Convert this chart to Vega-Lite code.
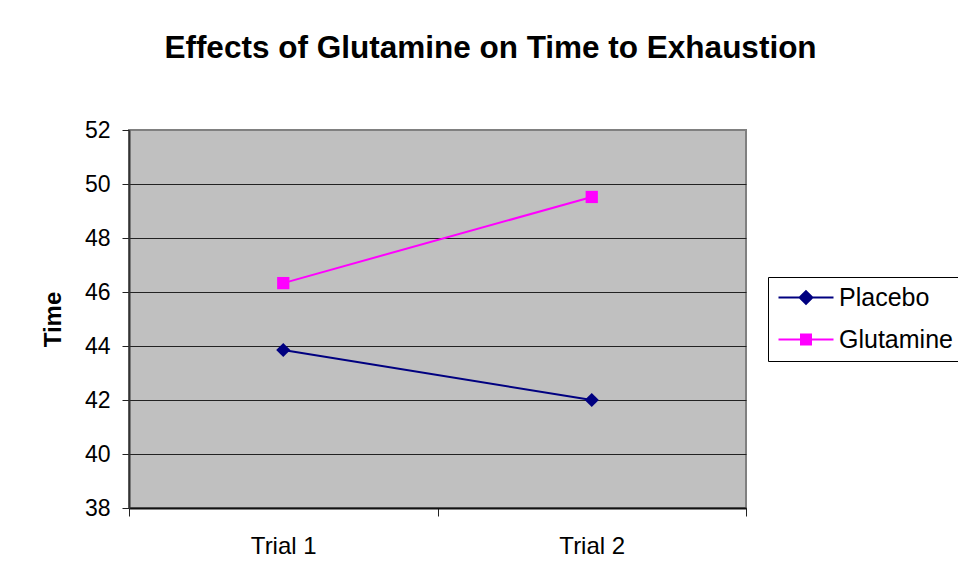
{
  "$schema": "https://vega.github.io/schema/vega-lite/v6.json",
  "width": 617,
  "height": 378,
  "autosize": {"type": "none"},
  "padding": {"left": 129, "top": 130, "right": 212, "bottom": 80},
  "background": "white",
  "view": {"stroke": "#808080", "strokeWidth": 2, "fill": "#C0C0C0"},
  "title": {
    "text": "Effects of Glutamine on Time to Exhaustion",
    "font": "Liberation Sans",
    "fontSize": 31.5,
    "fontWeight": "bold",
    "color": "black",
    "anchor": "middle",
    "frame": "group",
    "dx": 53,
    "offset": 55
  },
  "config": {
    "font": "Liberation Sans"
  },
  "data": {
    "values": [
      {"trial": "Trial 1", "series": "Placebo", "time": 43.85},
      {"trial": "Trial 2", "series": "Placebo", "time": 42.0},
      {"trial": "Trial 1", "series": "Glutamine", "time": 46.33},
      {"trial": "Trial 2", "series": "Glutamine", "time": 49.52}
    ]
  },
  "encoding": {
    "x": {
      "field": "trial",
      "type": "nominal",
      "scale": {"type": "band", "paddingInner": 0, "paddingOuter": 0},
      "axis": {
        "title": null,
        "labelAngle": 0,
        "labelFont": "Liberation Sans",
        "labelFontSize": 24,
        "labelColor": "black",
        "labelPadding": 18,
        "tickBand": "extent",
        "tickSize": 8,
        "tickColor": "#222222",
        "domainColor": "#111111",
        "domainWidth": 2,
        "grid": false
      }
    },
    "y": {
      "field": "time",
      "type": "quantitative",
      "scale": {"domain": [38, 52], "nice": false, "zero": false},
      "axis": {
        "title": "Time",
        "titleFont": "Liberation Sans",
        "titleFontSize": 24,
        "titleFontWeight": "bold",
        "titleColor": "black",
        "titlePadding": 19,
        "values": [38, 40, 42, 44, 46, 48, 50, 52],
        "labelFont": "Liberation Sans",
        "labelFontSize": 23,
        "labelColor": "black",
        "labelPadding": 12,
        "tickSize": 7,
        "tickColor": "#222222",
        "domainColor": "#333333",
        "domainWidth": 2,
        "grid": true,
        "gridColor": {"condition": {"test": "datum.value == 52", "value": "#808080"}, "value": "#222222"},
        "gridWidth": 1
      }
    }
  },
  "layer": [
    {
      "mark": {"type": "point", "filled": true, "size": 0, "strokeWidth": 2, "opacity": 1},
      "encoding": {
        "fill": {
          "field": "series",
          "type": "nominal",
          "scale": {"domain": ["Placebo", "Glutamine"], "range": ["#000080", "#FF00FF"]},
          "legend": {
            "title": null,
            "orient": "none",
            "legendX": 639,
            "legendY": 147,
            "labelFont": "Liberation Sans",
            "labelFontSize": 25,
            "labelColor": "black",
            "labelOffset": 38,
            "padding": 8,
            "rowPadding": 16,
            "strokeColor": "black",
            "fillColor": "white",
            "symbolSize": 256,
            "symbolStrokeWidth": 2
          }
        },
        "stroke": {
          "field": "series",
          "type": "nominal",
          "scale": {"domain": ["Placebo", "Glutamine"], "range": ["#000080", "#FF00FF"]},
          "legend": {
            "title": null,
            "orient": "none",
            "legendX": 639,
            "legendY": 147
          }
        },
        "shape": {
          "field": "series",
          "type": "nominal",
          "scale": {
            "domain": ["Placebo", "Glutamine"],
            "range": [
              "M-1.25,0L5.625,0M2.1875,-0.8L2.9875,0L2.1875,0.8L1.3875,0Z",
              "M-1.25,0L5.625,0M1.5625,-0.625L2.8125,-0.625L2.8125,0.625L1.5625,0.625Z"
            ]
          },
          "legend": {
            "title": null,
            "orient": "none",
            "legendX": 639,
            "legendY": 147
          }
        }
      }
    },
    {
      "mark": {"type": "line", "strokeWidth": 2},
      "encoding": {
        "color": {
          "field": "series",
          "type": "nominal",
          "scale": {"domain": ["Placebo", "Glutamine"], "range": ["#000080", "#FF00FF"]},
          "legend": null
        }
      }
    },
    {
      "transform": [{"filter": "datum.series == 'Placebo'"}],
      "mark": {"type": "point", "filled": true, "shape": "diamond", "size": 200, "color": "#000080", "opacity": 1}
    },
    {
      "transform": [{"filter": "datum.series == 'Glutamine'"}],
      "mark": {"type": "point", "filled": true, "shape": "square", "size": 150, "color": "#FF00FF", "opacity": 1}
    }
  ]
}
